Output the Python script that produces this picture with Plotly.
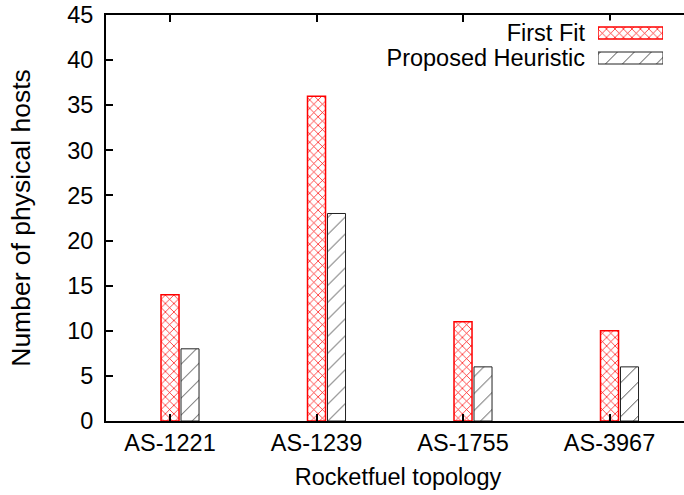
import plotly.graph_objects as go

categories = ["AS-1221", "AS-1239", "AS-1755", "AS-3967"]
first_fit = [14, 36, 11, 10]
proposed = [8, 23, 6, 6]
series_names = ["First Fit", "Proposed Heuristic"]
y_ticks = [0, 5, 10, 15, 20, 25, 30, 35, 40, 45]

FONT = "Liberation Sans, Arial, Helvetica, sans-serif"
W, H = 690, 495          # page window is 684 wide; the frame runs past its right edge
ML, MR, MT, MB = 106, 0, 15, 74
pw, ph = W - ML - MR, H - MT - MB
PX_PER_UNIT = 146.5
X_LEFT = -0.437

def px_x(p):
    return (p - ML) / pw

def px_y(p):
    return (H - MB - p) / ph

xpos = list(range(len(categories)))
bw = 0.123

red_marker = dict(color="white", line=dict(color="#ff0000", width=1.5),
                  pattern=dict(shape="x", fgcolor="#ff0000", bgcolor="white",
                               size=6, solidity=0.22, fillmode="replace"))
blk_marker = dict(color="white", line=dict(color="#222222", width=1),
                  pattern=dict(shape="/", fgcolor="#444444", bgcolor="white",
                               size=12, solidity=0.08, fillmode="replace"))

fig = go.Figure()
fig.add_trace(go.Bar(x=xpos, y=first_fit, name=series_names[0], width=bw,
                     offset=-bw / 2, marker=red_marker, showlegend=False))
fig.add_trace(go.Bar(x=xpos, y=proposed, name=series_names[1], width=bw,
                     offset=0.075, marker=blk_marker, showlegend=False))

# legend keys drawn on a small auxiliary axis
fig.add_trace(go.Bar(y=[series_names[0]], x=[1], orientation="h", width=0.48,
                     marker=red_marker, xaxis="x2", yaxis="y2", showlegend=False))
fig.add_trace(go.Bar(y=[series_names[1]], x=[1], orientation="h", width=0.48,
                     marker=blk_marker, xaxis="x2", yaxis="y2", showlegend=False))

fig.update_layout(
    width=W, height=H,
    margin=dict(l=ML, r=MR, t=MT, b=MB, autoexpand=False),
    paper_bgcolor="white", plot_bgcolor="white",
    barmode="overlay",
    font=dict(family=FONT, size=23.5, color="black"),
    xaxis=dict(
        range=[X_LEFT, X_LEFT + pw / PX_PER_UNIT], tickvals=xpos, ticktext=categories,
        showline=True, linecolor="black", linewidth=2, mirror="ticks",
        ticks="inside", ticklen=7, tickwidth=1.5, tickcolor="black",
        showgrid=False, zeroline=False, automargin=False,
        title=dict(text="Rocketfuel topology", standoff=13,
                   font=dict(size=23.5)),
    ),
    yaxis=dict(
        range=[0, 45], tickvals=y_ticks,
        showline=True, linecolor="black", linewidth=2, mirror=False,
        ticks="inside", ticklen=7, tickwidth=1.5, tickcolor="black",
        showgrid=False, zeroline=False, ticklabelstandoff=6, automargin=False,
        title=dict(text="Number of physical hosts", standoff=29,
                   font=dict(size=26.5)),
    ),
    xaxis2=dict(domain=[px_x(598), px_x(663)], range=[0, 1], anchor="y2",
                visible=False, fixedrange=True),
    yaxis2=dict(domain=[px_y(70.5), px_y(20.5)], range=[-0.5, 1.5],
                anchor="x2", type="category",
                categoryorder="array", categoryarray=[series_names[1], series_names[0]],
                tickmode="array", tickvals=[series_names[1], series_names[0]],
                showline=False, showgrid=False, zeroline=False, ticks="",
                automargin=False,
                ticklabelstandoff=12, tickfont=dict(size=23.5)),
)

fig.write_html("out.html",
               config={"displayModeBar": False},
               post_script="document.body.style.margin='0';document.body.style.overflow='hidden';")
